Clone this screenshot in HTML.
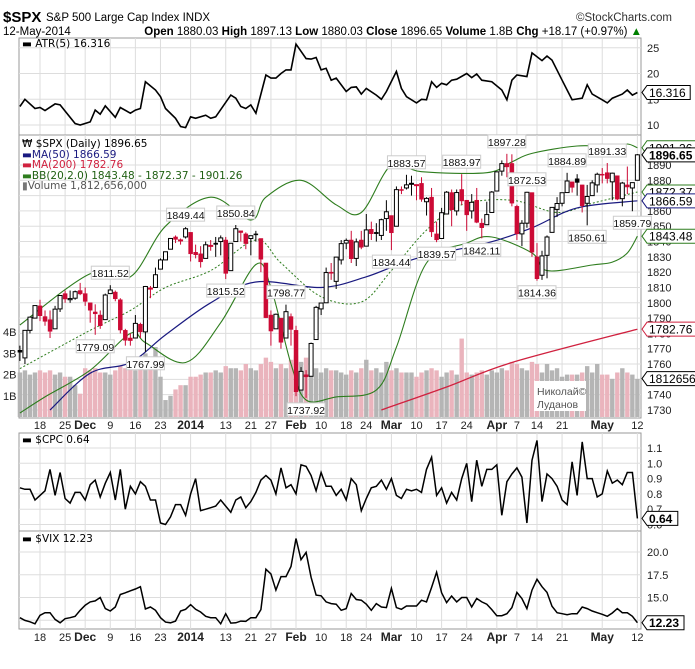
<!DOCTYPE html>
<html><head><meta charset="utf-8"><style>
body{margin:0;background:#fff}
svg{display:block;font-family:"Liberation Sans",sans-serif}
</style></head><body>
<svg id="c" width="695" height="669" viewBox="0 0 695 669" xmlns="http://www.w3.org/2000/svg">
<g>
<text x="3" y="22" font-size="15" font-weight="bold">$SPX</text>
<text x="46" y="21" font-size="11.5">S&amp;P 500 Large Cap Index  INDX</text>
<text x="672" y="21" font-size="11.5" fill="#333" text-anchor="end">©StockCharts.com</text>
<text x="3" y="35" font-size="11.5">12-May-2014</text>
<text x="642" y="35" font-size="11.5" text-anchor="end"><tspan font-weight="bold">Open</tspan> 1880.03 <tspan font-weight="bold">High</tspan> 1897.13 <tspan font-weight="bold">Low</tspan> 1880.03 <tspan font-weight="bold">Close</tspan> 1896.65 <tspan font-weight="bold">Volume</tspan> 1.8B <tspan font-weight="bold">Chg</tspan> +18.17 (+0.97%) <tspan fill="#008000">▲</tspan></text>
</g>
<g id="grid"></g><g id="marks"></g><g id="over"></g>
</svg>
<script>
const closes=[1767.69,1782.00,1790.62,1798.18,1791.53,1787.87,1781.37,1795.85,1804.76,1802.48,1802.75,1807.23,1805.81,1800.90,1795.15,1792.81,1785.03,1805.09,1808.37,1802.62,1782.22,1775.50,1775.32,1786.54,1781.00,1810.65,1809.60,1818.32,1827.99,1833.32,1842.02,1841.40,1841.07,1848.36,1831.98,1831.37,1826.77,1837.88,1837.49,1838.13,1842.37,1819.20,1838.88,1848.38,1845.89,1838.70,1843.80,1844.86,1828.46,1790.29,1781.56,1792.50,1774.20,1794.19,1782.59,1741.89,1755.20,1751.64,1773.43,1797.02,1799.84,1819.75,1819.26,1829.83,1838.63,1840.76,1828.75,1839.78,1836.25,1847.61,1845.12,1845.16,1854.29,1859.45,1845.73,1873.91,1873.81,1877.03,1878.04,1877.17,1867.63,1868.20,1846.34,1841.13,1858.83,1872.25,1860.77,1872.01,1866.52,1857.44,1865.62,1852.56,1849.04,1857.62,1872.34,1885.52,1890.90,1888.77,1865.09,1845.04,1851.96,1872.18,1833.08,1815.69,1830.61,1842.98,1862.31,1864.85,1871.89,1879.55,1875.39,1878.61,1863.40,1869.43,1878.33,1883.95,1883.68,1881.14,1884.66,1867.72,1878.21,1875.63,1878.48,1896.65];
const opens=[1769,1764,1782,1790,1798,1791,1789,1783,1796,1806,1802,1803,1808,1806,1800,1794,1792,1789,1806,1807,1802,1782,1777,1777,1786,1781,1809,1810,1822,1828,1835,1843,1841,1843,1846,1833,1832,1829,1837,1839,1840,1841,1821,1840,1847,1845,1842,1845,1842,1826,1792,1783,1790,1777,1791,1782,1743,1753,1752,1776,1796,1800,1820,1814,1828,1839,1841,1829,1841,1837,1848,1846,1844,1855,1857,1850,1874,1875,1878,1877,1878,1866,1869,1845,1842,1858,1872,1860,1874,1867,1860,1867,1852,1851,1859,1873,1886,1891,1891,1863,1845,1852,1872,1830,1818,1831,1846,1861,1865,1872,1879,1881,1877,1865,1870,1877,1884,1885,1879,1883,1868,1877,1875,1880.03];
const highs=[1772,1782,1791,1798,1802,1795,1795,1798,1805,1808,1808,1808,1813,1810,1800,1799,1795,1806,1811.5,1808,1803,1783,1780,1792,1787,1811,1811,1823,1829,1833,1842,1844,1842,1849.4,1846,1838,1837,1840,1841,1843,1844,1843,1839,1850.8,1847,1846,1844,1847,1842,1826,1795,1793,1790,1798.8,1793,1785,1758,1756,1774,1798,1800,1823,1826,1830,1841,1842,1847,1842,1847,1858,1853,1852,1855,1867,1857,1876,1876,1883.6,1883,1877,1882,1869,1875,1853,1862,1873,1874,1874,1884,1867,1871,1875,1855,1866,1873,1885.8,1893,1897.3,1897,1864,1854,1872.5,1872,1839,1834,1844,1862,1869,1872,1884.9,1879,1884,1877,1877,1880,1885,1888,1891.3,1885,1883,1879,1889,1878,1897.13];
const lows=[1762,1760,1780,1790,1788,1785,1777,1783,1794,1800,1800,1802,1805,1798,1787,1779.1,1783,1789,1806,1801,1780,1772,1772,1777,1777,1768,1803,1810,1822,1828,1835,1839,1838,1842,1827,1829,1823,1829,1834,1830,1831,1815.5,1821,1840,1840,1835,1831,1840,1820,1790,1772,1783,1770,1777,1772,1739,1743,1737.9,1752,1776,1792,1800,1815,1809,1825,1835,1826,1824,1835,1837,1841,1840,1841,1847,1834.4,1850,1871,1874,1870,1867,1866,1857,1843,1839.6,1842,1858,1850,1857,1864,1847,1855,1852,1842.1,1851,1859,1873,1883,1882,1863,1841,1837,1849,1830,1814.4,1815,1816,1846,1856,1863,1872,1872,1870,1859,1850.6,1870,1872,1878,1878,1867,1867,1863,1871,1859.8,1880.03];
const volumes=[2.1,2.2,2.0,2.1,2.2,2.1,2.2,2.0,2.1,1.9,1.9,1.5,1.1,2.3,2.2,2.3,2.1,2.1,2.0,2.2,2.4,2.3,2.5,2.2,2.3,3.0,2.6,3.3,1.9,0.8,1.0,1.3,1.5,1.5,1.9,1.9,2.0,2.1,2.1,2.2,2.1,2.4,2.3,2.3,2.2,2.5,2.3,2.2,2.5,2.8,2.6,2.3,2.5,2.3,2.7,2.9,2.6,2.8,2.3,2.3,2.1,2.3,2.2,2.2,2.1,2.0,2.2,2.1,2.3,2.7,2.2,2.3,2.1,2.6,2.2,2.3,2.1,2.1,2.1,1.9,2.1,2.2,2.3,2.2,1.9,2.1,2.2,2.0,3.7,2.1,2.0,2.1,2.2,2.0,2.2,2.1,2.3,2.2,2.6,2.5,2.3,2.2,2.6,2.5,2.1,2.5,2.2,2.3,1.9,2.0,2.0,2.0,2.1,2.4,2.1,2.5,2.0,2.0,1.8,2.1,2.3,2.1,2.0,1.8];
const ma50Days=[6,14,22,29,38,47,60,69,79,93,102,111,123];
const ma50Vals=[1730,1754,1761,1779,1800,1813.6,1810,1817,1829,1839,1849,1862,1866.59];
const ma200Days=[72,85,98,123];
const ma200Vals=[1730,1745,1761,1782.76];
const bbUpDays=[0,14,22,29,38,46,49,56,63,68,74,80,93,98,102,111,118,121,123];
const bbUpVals=[1785.5,1819,1817,1850,1869,1854,1869,1880,1864,1859,1890,1885.6,1885,1892,1897.6,1902.4,1902,1903.7,1901.26];
const bbLoDays=[0,5,14,22,25,33,40,47,50,54,57,63,71,75,81,89,94,102,105,114,118,121,123];
const bbLoVals=[1728,1738.5,1756,1780,1774,1761,1787,1825,1810,1760,1736.5,1738.5,1743,1771,1826,1839,1843,1832.5,1821,1824.7,1826.6,1832.5,1843.48];
const bbMidDays=[0,14,22,29,38,47,52,60,68,74,81,88,98,107,114,123];
const bbMidVals=[1757,1782,1795,1810,1821,1841,1826,1804,1800.5,1821,1847.5,1864,1867,1859,1865,1872.37];
const annDays=[18,15,25,33,43,41,53,57,77,74,88,83,92,97,101,103,109,113,117,122];
const annVals=[1811.52,1779.09,1767.99,1849.44,1850.84,1815.52,1798.77,1737.92,1883.57,1834.44,1883.97,1839.57,1842.11,1897.28,1872.53,1814.36,1884.89,1850.61,1891.33,1859.79];
const annSide=[1,-1,-1,1,1,-1,1,-1,1,-1,1,-1,-1,1,1,-1,1,-1,1,-1];
const atrDays=[0,1,3,4,5,7,8,11,12,14,15,16,17,19,20,22,23,24,25,27,28,29,31,32,33,34,35,37,38,39,42,43,44,45,46,47,49,50,51,52,53,54,55,57,58,59,60,61,62,63,65,66,67,68,69,71,72,73,75,76,77,79,80,81,82,83,84,85,86,87,89,90,91,92,94,96,97,98,99,101,102,104,105,106,108,109,110,112,113,114,116,117,118,120,121,122,123];
const atrVals=[13.6,15.0,13.2,13.4,12.8,14.1,13.9,10.3,10.0,10.6,12.9,12.1,13.7,11.5,13.4,12.3,12.9,13.2,18.4,16.8,15.5,13.2,11.3,9.7,9.5,11.6,11.3,11.9,11.3,11.6,15.8,15.2,13.6,13.2,13.9,12.3,19.7,19.1,19.1,20.0,20.7,20.7,25.7,22.9,22.8,23.1,20.7,21.0,18.7,19.1,16.5,17.3,17.4,16.0,17.1,15.8,15.0,16.5,20.4,17.1,15.5,14.3,15.0,14.9,18.4,17.3,18.1,17.8,18.7,18.9,20.0,19.2,19.9,18.7,18.4,16.8,14.9,18.7,19.7,19.4,24.0,22.5,23.4,22.6,18.7,16.8,14.9,15.2,17.8,16.0,14.9,14.3,15.2,16.0,16.8,15.8,16.316];
const cpcVals=[0.84,0.83,0.83,0.76,0.79,0.82,0.96,0.79,0.94,0.77,0.74,0.81,0.81,0.76,0.86,0.89,0.78,0.87,0.94,0.76,0.96,0.70,0.85,0.80,0.88,0.85,0.76,0.76,0.61,0.60,0.65,0.73,0.73,0.66,0.80,0.90,0.69,0.70,0.71,0.72,0.76,0.72,0.68,0.76,0.78,0.71,0.75,0.81,0.89,0.92,0.89,0.80,0.97,0.84,0.86,0.80,0.99,0.98,0.92,0.82,0.94,0.85,0.85,0.79,0.83,0.76,0.90,0.86,0.69,0.77,0.84,0.85,0.89,0.83,0.90,0.79,0.77,0.83,0.82,0.83,0.81,0.96,1.04,0.79,0.84,0.74,0.81,0.76,0.90,1.00,0.75,1.02,0.85,0.96,0.96,0.99,0.66,0.88,0.93,0.97,0.91,0.61,1.02,1.15,0.75,0.93,0.90,0.85,0.76,0.73,1.01,0.79,1.14,0.90,0.90,0.78,0.80,0.95,0.87,0.89,0.86,0.94,0.94,0.64];
const vixVals=[12.78,12.48,12.33,12.11,13.04,13.33,13.33,12.59,12.22,12.67,12.78,12.93,13.59,14.15,14.52,14.63,15.0,13.78,13.52,13.96,15.33,15.52,15.74,15.93,16.19,13.74,13.96,13.59,12.78,12.30,12.22,12.41,13.52,13.70,14.22,13.70,13.41,12.93,12.78,12.78,12.11,13.22,12.19,12.22,12.41,12.37,12.78,12.78,13.67,18.11,17.59,15.81,17.30,17.30,18.41,21.48,19.15,19.96,17.22,15.26,15.19,14.52,14.33,14.26,13.59,13.78,15.44,14.78,14.70,14.26,13.59,14.33,13.96,13.89,16.0,13.89,13.70,14.07,14.07,14.07,14.70,14.52,16.11,17.78,15.52,14.44,15.15,14.52,15.0,15.0,13.96,14.89,14.52,14.26,13.67,13.0,13.0,13.22,13.89,15.56,14.89,13.78,15.81,17.0,16.19,15.56,14.04,13.33,13.22,13.11,13.22,13.22,13.96,13.78,13.52,13.33,13.15,12.93,13.30,13.78,13.33,13.33,12.93,12.23];
const dateLabels=["18","25","Dec","9","16","23","2014","13","21","27","Feb","10","18","24","Mar","10","17","24","Apr","7","14","21","May","12"];
const dateDays=[4,9,13,18,23,28,34,41,46,50,55,60,65,69,74,79,84,89,95,99,103,108,116,123];
const priceTicks=[1730,1740,1750,1760,1770,1780,1790,1800,1810,1820,1830,1840,1850,1860,1870,1880,1890];
const atrTicks=[10,15,20,25];
const cpcTicks=[0.6,0.7,0.8,0.9,1.0,1.1];
const vixTicks=[12.5,15.0,17.5,20.0];
const volTicks=[1,2,3,4];

const NS="http://www.w3.org/2000/svg";
const L=19,R=641;
const X=i=>40+(i-4)*5.02;
const PY=p=>165+(1890-p)*1.531;
const VY=v=>417-v*21.2;
const AY=v=>125-(v-10)*5.15;
const CY=v=>448+(1.1-v)*153;
const XY=v=>552+(20-v)*9.1;
const P={atr:[38,135],price:[135,418],cpc:[433,531],vix:[531,629]};
const grid=document.getElementById('grid'),marks=document.getElementById('marks'),over=document.getElementById('over');
function mk(t,a,p){const e=document.createElementNS(NS,t);for(const k in a)e.setAttribute(k,a[k]);(p||marks).appendChild(e);return e;}
function txt(s,a,p){const e=mk('text',a,p);e.textContent=s;return e;}

for(const k in P){const [t,b]=P[k];
 const r=mk('rect',{x:L,y:t,width:R-L,height:b-t,fill:'#fff',stroke:'#999','stroke-width':1},grid);
 
 
 dateDays.forEach(d=>{mk('line',{x1:X(d),x2:X(d),y1:t,y2:b,stroke:'#ddd'},grid);});
}
function hgrid(ticks,f,fmt,nm){ticks.forEach(v=>{const y=f(v);mk('line',{x1:L,x2:R,y1:y,y2:y,stroke:'#ddd'},grid);
 const t=txt(fmt(v),{x:R+6,y:y+4,'font-size':11,fill:'#222'},grid);
 
 });}
hgrid(atrTicks,AY,v=>String(v),'atr');
hgrid(priceTicks,PY,v=>String(v),'price');
hgrid(cpcTicks,CY,v=>v.toFixed(1),'cpc');
hgrid(vixTicks,XY,v=>v.toFixed(1),'vix');
volTicks.forEach(v=>{const t=txt(v+'B',{x:3,y:VY(v)+4,'font-size':11,fill:'#222'},grid);
 
 });
[425,637].forEach(y=>{dateDays.forEach((d,k)=>{const lab=dateLabels[k];const bold=isNaN(+lab)||lab==='2014';
 const t=txt(lab,{x:X(d),y:y+4,'font-size':bold?12:11,'font-weight':bold?'bold':'normal','text-anchor':'middle',fill:'#222'},grid);
 
 });});

volumes.forEach((v,i)=>{const down=i>0&&closes[i]<closes[i-1];
 const r=mk('rect',{x:X(i)-2.2,y:VY(v),width:4.4,height:417-VY(v),fill:down?'#eab4bd':'#b5b5b5'});
 
 });
function poly(days,vals,f,attrs,name){const pts=days.map((d,k)=>X(d).toFixed(1)+','+f(vals[k]).toFixed(1)).join(' ');
 const e=mk('polyline',Object.assign({points:pts,fill:'none'},attrs));
 
 return e;}
function smooth(days,vals,f,attrs,name,parent){
 const p=days.map((d,k)=>[X(d),f(vals[k])]);
 let d='M'+p[0][0].toFixed(1)+','+p[0][1].toFixed(1);
 for(let i=0;i<p.length-1;i++){const p0=p[i-1]||p[i],p1=p[i],p2=p[i+1],p3=p[i+2]||p2;
  const c1=[p1[0]+(p2[0]-p0[0])/6,p1[1]+(p2[1]-p0[1])/6],c2=[p2[0]-(p3[0]-p1[0])/6,p2[1]-(p3[1]-p1[1])/6];
  d+=` C${c1[0].toFixed(1)},${c1[1].toFixed(1)} ${c2[0].toFixed(1)},${c2[1].toFixed(1)} ${p2[0].toFixed(1)},${p2[1].toFixed(1)}`;}
 const e=mk('path',Object.assign({d:d,fill:'none'},attrs),parent);
 
 return e;}
const clip=mk('clipPath',{id:'pc'},document.getElementById('c'));mk('rect',{x:L,y:135,width:R-L,height:283},clip);
const g=mk('g',{'clip-path':'url(#pc)'});
smooth(bbUpDays,bbUpVals,PY,{stroke:'#2e7d1e','stroke-width':1.1},'bb-upper-line',g);
smooth(bbLoDays,bbLoVals,PY,{stroke:'#2e7d1e','stroke-width':1.1},'bb-lower-line',g);
smooth(bbMidDays,bbMidVals,PY,{stroke:'#2e7d1e','stroke-width':1,'stroke-dasharray':'2,2'},'bb-middle-line',g);
smooth(ma50Days,ma50Vals,PY,{stroke:'#1a1a80','stroke-width':1.2},'ma50-line',g);
smooth(ma200Days,ma200Vals,PY,{stroke:'#d0213f','stroke-width':1.3},'ma200-line',g);
closes.forEach((c,i)=>{const o=opens[i],x=X(i);const col=(i>0&&c<closes[i-1])?'#cc0a35':'#000';
 const w=mk('line',{x1:x,x2:x,y1:PY(highs[i]),y2:PY(lows[i]),stroke:col,'stroke-width':1});
 
 
 const top=PY(Math.max(o,c)),h=Math.max(1,Math.abs(PY(o)-PY(c)));
 const b=mk('rect',{x:x-2,y:top,width:4,height:h,fill:c<o?col:'#fff',stroke:col,'stroke-width':c<o?0.5:1});
 
 });
annDays.forEach((d,k)=>{const v=annVals[k],s=annSide[k];const x=X(d);const y=s>0?PY(highs[d])-12:PY(lows[d])+12;
 const grp=mk('g',{});
 
 
 mk('rect',{x:x-19,y:y-7,width:38,height:13,fill:'#fff',stroke:'#ccc'},grp);
 txt(v.toFixed(2),{x:x,y:y+4,'font-size':10.5,'text-anchor':'middle',fill:'#111'},grp);});
poly(atrDays,atrVals,AY,{stroke:'#000','stroke-width':1.6},'atr-line');
const days=closes.map((c,i)=>i);
poly(days,cpcVals,CY,{stroke:'#000','stroke-width':1.5},'cpc-line');
poly(days,vixVals,XY,{stroke:'#000','stroke-width':1.5},'vix-line');

function tag(y,label,col,bold,name){const gr=mk('g',{},over);
 
 
 const w=label.length*6.2+6;
 mk('path',{d:`M${R+1},${y} L${R+6},${y-7} L${R+6+w},${y-7} L${R+6+w},${y+7} L${R+6},${y+7} Z`,fill:'#fff',stroke:col,'stroke-width':1},gr);
 txt(label,{x:R+8,y:y+4.5,'font-size':12,'font-weight':bold?'bold':'normal',fill:'#000'},gr);}
tag(PY(1901.26),'1901.26','#2e7d1e',false,'bb-upper-tag');
tag(PY(1896.65),'1896.65','#000',true,'close-tag');
tag(PY(1872.37),'1872.37','#2e7d1e',false,'bb-middle-tag');
tag(PY(1866.59),'1866.59','#1a1a80',false,'ma50-tag');
tag(PY(1843.48),'1843.48','#2e7d1e',false,'bb-lower-tag');
tag(PY(1782.76),'1782.76','#d0213f',false,'ma200-tag');
tag(VY(1.812656),'1812656','#000',false,'volume-tag');
tag(AY(16.316),'16.316','#000',false,'atr-tag');
tag(CY(0.64),'0.64','#000',true,'cpc-tag');
tag(XY(12.23),'12.23','#000',true,'vix-tag');

function leg(y,items,name){const t=txt('',{x:22,y:y+4,'font-size':10.5,'font-family':'DejaVu Sans,sans-serif'},over);
 
 
 items.forEach(([s,c])=>{const ts=document.createElementNS(NS,'tspan');ts.setAttribute('fill',c);ts.textContent=s;t.appendChild(ts);});}
leg(43,[['▬ ATR(5) 16.316','#000']],'atr-legend');
leg(143,[['₩ $SPX (Daily) 1896.65','#000']],'price-legend');
leg(154,[['▬','#1a1a80'],['MA(50) 1866.59','#1a1a80']],'ma50-legend');
leg(164,[['▬','#d0213f'],['MA(200) 1782.76','#d0213f']],'ma200-legend');
leg(175,[['▬','#2e7d1e'],['BB(20,2.0) 1843.48 - 1872.37 - 1901.26','#1f5f12']],'bb-legend');
leg(185,[['▮','#777'],['Volume 1,812,656,000','#555']],'volume-legend');
leg(439,[['▬ $CPC 0.64','#000']],'cpc-legend');
leg(538,[['▬ $VIX 12.23','#000']],'vix-legend');
const wm=mk('g',{},over);


mk('rect',{x:534,y:381,width:52,height:30,fill:'#fff'},wm);
txt('Николай©',{x:537,y:395,'font-size':10.5,fill:'#555'},wm);
txt('Луданов',{x:537,y:408,'font-size':10.5,fill:'#555'},wm);
</script>
</body></html>
